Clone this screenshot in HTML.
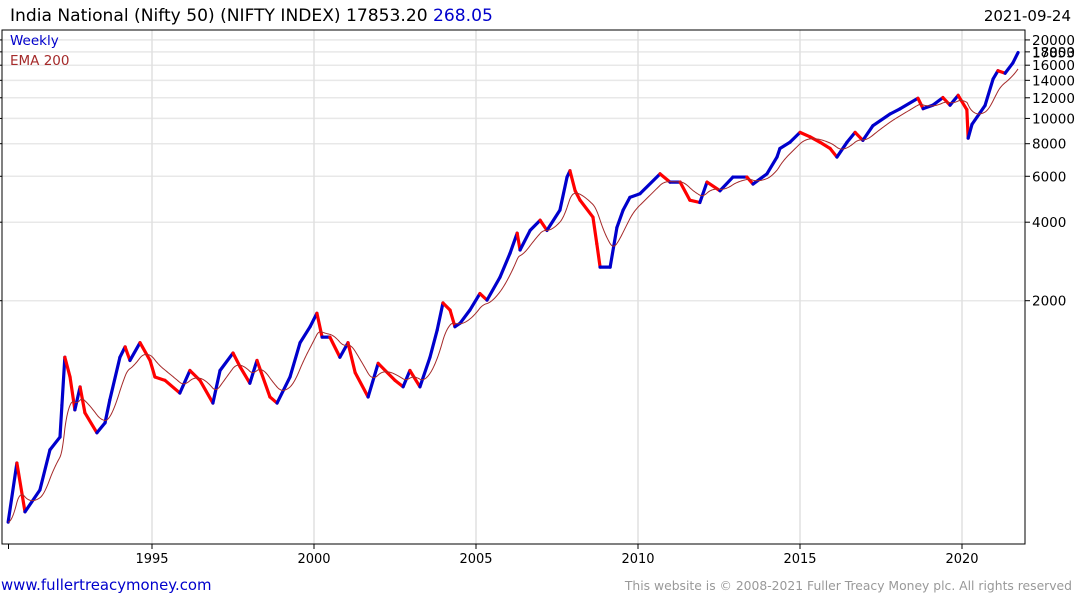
<!DOCTYPE html>
<html><head><meta charset="utf-8"><style>
body{margin:0;background:#fff;font-family:"DejaVu Sans",sans-serif;}
svg{display:block}
</style></head><body>
<svg id="chart" width="1075" height="600">
<text x="10" y="21" font-size="17.1" fill="#000">India National (Nifty 50) (NIFTY INDEX) 17853.20 <tspan fill="#0000cc">268.05</tspan></text>
<text x="1071" y="21" font-size="15" text-anchor="end" fill="#000">2021-09-24</text>
<g id="grid"></g>
<g id="plot"></g>
<g id="axes"></g>
<text x="10" y="45" font-size="13.5" fill="#0000cc">Weekly</text>
<text x="10" y="65" font-size="13.5" fill="#a52a2a">EMA 200</text>
<text x="1" y="590" font-size="14.9" fill="#0000cc">www.fullertreacymoney.com</text>
<text x="1072" y="590" font-size="12.35" fill="#999" text-anchor="end">This website is © 2008-2021 Fuller Treacy Money plc. All rights reserved</text>
</svg>
<script>
const dates=[1990.56,1990.83,1991.08,1991.54,1991.85,1992.16,1992.22,1992.31,1992.47,1992.62,1992.78,1992.93,1993.30,1993.55,1993.70,1994.01,1994.17,1994.32,1994.63,1994.94,1995.09,1995.40,1995.86,1996.17,1996.48,1996.88,1997.10,1997.50,1997.72,1998.02,1998.24,1998.64,1998.86,1999.26,1999.57,1999.88,2000.09,2000.25,2000.49,2000.80,2001.05,2001.27,2001.67,2001.98,2002.50,2002.75,2002.96,2003.27,2003.58,2003.80,2003.98,2004.20,2004.35,2004.51,2004.81,2005.12,2005.34,2005.74,2006.05,2006.27,2006.36,2006.67,2006.98,2007.19,2007.59,2007.81,2007.90,2008.06,2008.21,2008.61,2008.73,2008.83,2009.14,2009.35,2009.54,2009.75,2010.06,2010.68,2010.99,2011.30,2011.60,2011.91,2012.13,2012.53,2012.93,2013.36,2013.55,2013.98,2014.29,2014.38,2014.69,2015.00,2015.31,2015.62,2015.93,2016.14,2016.45,2016.70,2016.94,2017.25,2017.78,2018.09,2018.64,2018.80,2019.10,2019.41,2019.63,2019.88,2020.15,2020.19,2020.31,2020.71,2020.96,2021.11,2021.33,2021.57,2021.73];
const closes=[283,477,310,376,536,600,796,1214,1020,763,934,743,623,680,835,1214,1330,1180,1380,1180,1020,990,885,1080,990,810,1080,1260,1115,965,1180,855,810,1020,1380,1590,1790,1450,1450,1214,1380,1060,855,1150,990,935,1080,935,1214,1540,1960,1840,1590,1640,1840,2130,2010,2460,3040,3630,3130,3720,4070,3720,4450,5960,6300,5280,4860,4180,3300,2690,2690,3820,4450,4980,5140,6130,5700,5700,4860,4760,5700,5280,5960,5960,5600,6130,7110,7670,8100,8840,8500,8100,7670,7110,8100,8840,8240,9380,10400,10890,11950,10900,11240,12020,11240,12260,10800,8400,9500,11200,14170,15240,14900,16320,17890];
const yTicks=[20000,18000,16000,14000,12000,10000,8000,6000,4000,2000];
const xTicks=[1995,2000,2005,2010,2015,2020];
const emaWeeks=40;
const NS='http://www.w3.org/2000/svg';
const L=2,R=1025,T=30,B=544;
function xs(t){return 152+(t-1995)*32.4;}
function ys(p){return 300.7-78.5*Math.log2(p/2000);}
function mk(tag,attrs,parent){const e=document.createElementNS(NS,tag);for(const k in attrs)e.setAttribute(k,attrs[k]);parent.appendChild(e);return e;}
const grid=document.getElementById('grid'),plot=document.getElementById('plot'),axes=document.getElementById('axes');
yTicks.forEach(v=>{
  const y=ys(v);
  const g=mk('line',{x1:L,x2:R,y1:y,y2:y,stroke:'#e8e8e8','stroke-width':1.5},grid);
  
  
  const tk=mk('line',{x1:R,x2:R+5,y1:y,y2:y,stroke:'#000'},axes);
  
  
  const tl=mk('line',{x1:L-3,x2:L,y1:y,y2:y,stroke:'#000'},axes);
  
  
  const t=mk('text',{x:R+7,y:y+5,'font-size':13.5,fill:'#000'},axes);
  t.textContent=v;
  
  
});
xTicks.forEach(v=>{
  const x=xs(v);
  const g=mk('line',{x1:x,x2:x,y1:T,y2:B,stroke:'#e0e0e0','stroke-width':1.5},grid);
  
  
  const tk=mk('line',{x1:x,x2:x,y1:B,y2:B+5,stroke:'#000'},axes);
  
  
  const t=mk('text',{x:x,y:B+19,'font-size':13,fill:'#000','text-anchor':'middle'},axes);
  t.textContent=v;
  
  
});
const ft=mk('line',{x1:8.5,x2:8.5,y1:B,y2:B+5,stroke:'#000'},axes);


const fr=mk('path',{d:`M${L} ${T}H${R}V${B}H${L}Z`,fill:'none',stroke:'#000','stroke-width':1},axes);


let ema=closes[0];const emaPts=[[xs(dates[0]),ys(ema)]];
for(let i=1;i<closes.length;i++){
  const wk=(dates[i]-dates[i-1])*52;const steps=Math.max(1,Math.round(wk));
  for(let s=1;s<=steps;s++){
    const f=s/steps;const t=dates[i-1]+(dates[i]-dates[i-1])*f;
    const p=Math.exp(Math.log(closes[i-1])+(Math.log(closes[i])-Math.log(closes[i-1]))*f);
    ema=ema+(p-ema)*2/(emaWeeks+1);
    emaPts.push([xs(t),ys(ema)]);
  }
}
for(let i=1;i<closes.length;i++){
  const up=closes[i]>=closes[i-1];
  const s=mk('line',{x1:xs(dates[i-1]),y1:ys(closes[i-1]),x2:xs(dates[i]),y2:ys(closes[i]),stroke:up?'#0000cc':'#ff0000','stroke-width':3.2,'stroke-linecap':'round'},plot);
  
  
}
const el=mk('polyline',{points:emaPts.map(p=>p.join(',')).join(' '),fill:'none',stroke:'#a52a2a','stroke-width':1},plot);


const pl=mk('text',{x:R+7,y:ys(closes[closes.length-1])+5,'font-size':13.5,fill:'#000'},axes);
pl.textContent='17853';


</script>
</body></html>
